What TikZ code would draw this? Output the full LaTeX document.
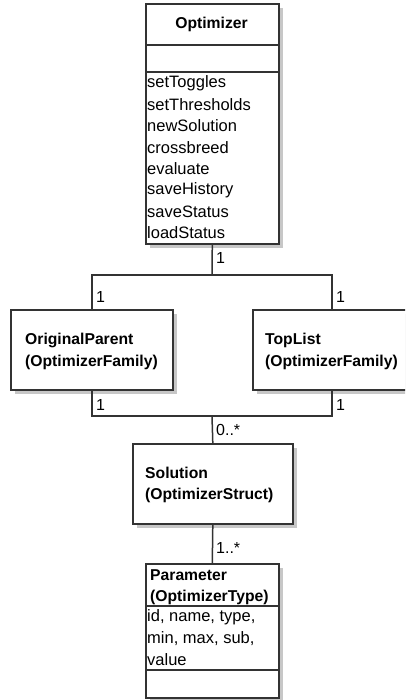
\documentclass[tikz,border=0pt]{standalone}
\usepackage{fontspec}
\setmainfont{Liberation Sans}
\usetikzlibrary{shadows}

\begin{document}
\begin{tikzpicture}[x=1pt, y=-1pt,
    umlbox/.style={draw=black!80, line width=1.6pt, fill=white, anchor=north west, inner sep=0pt,
        drop shadow={shadow xshift=4pt, shadow yshift=-4pt, fill=black!22, opacity=1}},
    sep/.style={draw=black!80, line width=1.6pt},
    link/.style={draw=black!80, line width=1.5pt},
    txt/.style={anchor=west, inner sep=0pt, font=\fontsize{16.5}{20}\selectfont},
    ttl/.style={anchor=west, inner sep=0pt, font=\fontsize{15.7}{20}\selectfont\bfseries},
    mult/.style={anchor=west, inner sep=0pt, font=\fontsize{16}{20}\selectfont}]
    \useasboundingbox (0,0) rectangle (405,700);
    \clip (0,0) rectangle (405,700);
    % classes
    \node[umlbox, minimum width=133pt, minimum height=240pt] (opt) at (145,3) {};
    \node[umlbox, minimum width=162pt, minimum height=80pt] (op) at (10,309) {};
    \node[umlbox, minimum width=158pt, minimum height=80pt] (tl) at (252,309) {};
    \node[umlbox, minimum width=160pt, minimum height=80pt] (sol) at (132,443) {};
    \node[umlbox, minimum width=133pt, minimum height=134pt] (par) at (145,563) {};
    % compartments
    \draw[sep] (145,45) -- (278,45);
    \draw[sep] (145,72) -- (278,72);
    \draw[sep] (145,606) -- (278,606);
    \draw[sep] (145,670) -- (278,670);
    % texts
    \node[ttl, anchor=center] (optname) at (211.5,24) {Optimizer};
    \foreach \m [count=\i from 0] in {setToggles,setThresholds,newSolution,crossbreed,evaluate,saveHistory,saveStatus,loadStatus}
        \node[txt] (m\i) at (147,{83+21.4*\i}) {\m};
    \node[ttl] (opname) at (25,340) {OriginalParent};
    \node[ttl] (optype) at (25,362) {(OptimizerFamily)};
    \node[ttl] (tlname) at (265,340) {TopList};
    \node[ttl] (tltype) at (265,362) {(OptimizerFamily)};
    \node[ttl] (solname) at (145,473) {Solution};
    \node[ttl] (soltype) at (145,495) {(OptimizerStruct)};
    \node[ttl] (parname) at (150,575) {Parameter};
    \node[ttl] (partype) at (150,597) {(OptimizerType)};
    \node[txt] (a0) at (147,617) {id, name, type,};
    \node[txt] (a1) at (147,639) {min, max, sub,};
    \node[txt] (a2) at (147,660) {value};
    % associations
    \coordinate (j1) at (212,275);
    \coordinate (j2) at (212,416);
    \draw[link] (opt.south) -- (j1);
    \draw[link] (op.north) |- (j1) -| (tl.north);
    \draw[link] (op.south) |- (j2) -| (tl.south);
    \draw[link] (j2) -- (sol.north);
    \draw[link] (sol.south) -- (par.north);
    % multiplicities
    \node[mult] at (216,258) {1};
    \node[mult] at (96,297) {1};
    \node[mult] at (336,297) {1};
    \node[mult] at (96,405) {1};
    \node[mult] at (336,405) {1};
    \node[mult] at (216,430) {0..*};
    \node[mult] at (216,548) {1..*};
\end{tikzpicture}
\end{document}
